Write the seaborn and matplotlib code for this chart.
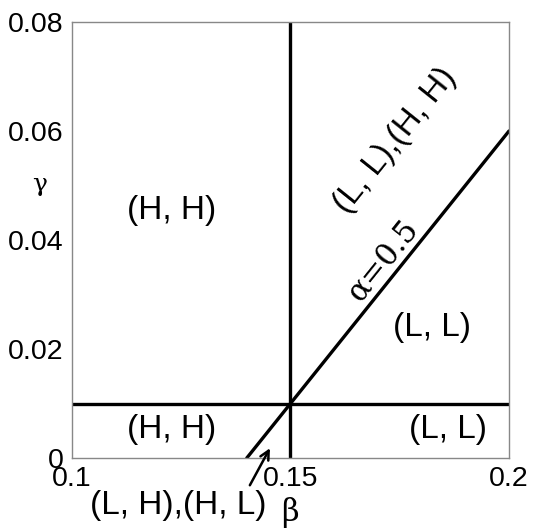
import numpy as np
import pandas as pd
import matplotlib
matplotlib.use("Agg")
import matplotlib.pyplot as plt
import seaborn as sns

# boundary lines of the phase diagram
beta_vert = [0.15, 0.15]
gamma_vert = [0.0, 0.08]
beta_horiz = [0.1, 0.2]
gamma_horiz = [0.01, 0.01]
beta_diag = [0.14, 0.2]
gamma_diag = [0.0, 0.06]

x_ticks = [0.1, 0.15, 0.2]
x_tick_labels = ["0.1", "0.15", "0.2"]
y_ticks = [0, 0.02, 0.04, 0.06, 0.08]
y_tick_labels = ["0", "0.02", "0.04", "0.06", "0.08"]

region_labels = ["(H, H)", "(H, H)", "(L, L)", "(L, L)"]
region_beta = [0.1229, 0.1229, 0.1824, 0.186]
region_gamma = [0.0455, 0.0053, 0.024, 0.0053]

sns.set_style("white")
plt.rcParams["font.family"] = ["Liberation Sans", "DejaVu Sans"]
plt.rcParams["text.color"] = "black"

fig = plt.figure(figsize=(5.4, 5.29), dpi=100)
ax = fig.add_axes([0.1333, 0.1342, 0.8093, 0.8242])

lines = pd.DataFrame({
    "beta": beta_vert + beta_horiz + beta_diag,
    "gamma": gamma_vert + gamma_horiz + gamma_diag,
    "line": ["v", "v", "h", "h", "d", "d"],
})
sns.lineplot(data=lines, x="beta", y="gamma", units="line", estimator=None,
             color="black", linewidth=2.4, sort=False, ax=ax)

ax.set_xlim(0.1, 0.2)
ax.set_ylim(0, 0.08)
ax.set_xticks(x_ticks)
ax.set_xticklabels(x_tick_labels)
ax.set_yticks(y_ticks)
ax.set_yticklabels(y_tick_labels)
ax.tick_params(length=0, labelsize=20.5, pad=6, labelcolor="black")
ax.set_xlabel("")
ax.set_ylabel("")
for s in ax.spines.values():
    s.set_color("#888888")
    s.set_linewidth(1.0)

for lab, b, g in zip(region_labels, region_beta, region_gamma):
    ax.text(b, g, lab, fontsize=24, ha="center", va="center")

# screen angle of the diagonal
p0 = ax.transData.transform((beta_diag[0], gamma_diag[0]))
p1 = ax.transData.transform((beta_diag[1], gamma_diag[1]))
ang = np.degrees(np.arctan2(p1[1] - p0[1], p1[0] - p0[0]))

ax.text(0.1739, 0.0583, "(L, L),(H, H)", fontsize=24, rotation=ang,
        ha="center", va="center", rotation_mode="anchor")
ax.text(0.1712, 0.0362, "α=0.5", fontsize=22, rotation=ang,
        ha="center", va="center", rotation_mode="anchor",
        family=["DejaVu Serif", "Liberation Sans"])

ax.text(0.1243, -0.0088, "(L, H),(H, L)", fontsize=24, ha="center", va="center")
ax.annotate("", xy=(0.1453, 0.0018), xytext=(0.1407, -0.005),
            annotation_clip=False,
            arrowprops=dict(arrowstyle="->", color="black", lw=1.8,
                            shrinkA=0, shrinkB=0, mutation_scale=16))

fig.text(290 / 540, 1 - 512 / 529, "β", fontsize=22, ha="center", va="center",
         family=["DejaVu Serif"])
fig.text(40 / 540, 1 - 185 / 529, "γ", fontsize=18, ha="center", va="center",
         family=["DejaVu Serif"])

fig.savefig("out.png", dpi=100)
